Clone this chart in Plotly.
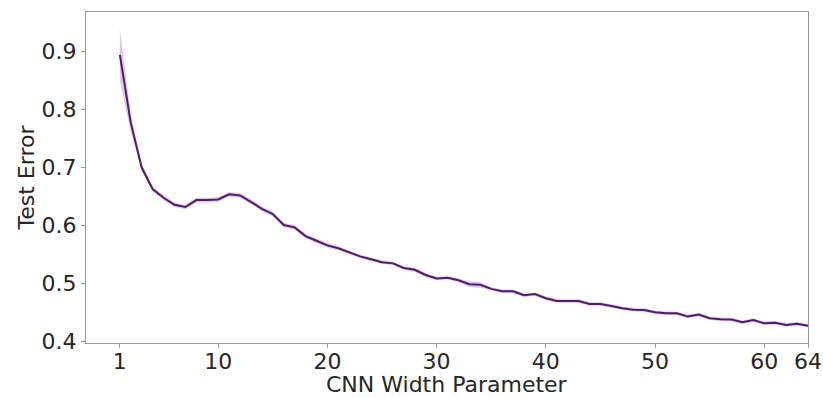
import plotly.graph_objects as go

widths = list(range(1, 65))
test_error = [
    0.894, 0.777, 0.700, 0.663, 0.648, 0.636, 0.632, 0.644, 0.644, 0.645,
    0.654, 0.652, 0.641, 0.629, 0.620, 0.601, 0.597, 0.582, 0.574, 0.566,
    0.561, 0.554, 0.547, 0.542, 0.537, 0.535, 0.527, 0.524, 0.515, 0.509,
    0.510, 0.506, 0.499, 0.498, 0.491, 0.487, 0.487, 0.480, 0.482, 0.475,
    0.470, 0.470, 0.470, 0.465, 0.465, 0.4615, 0.4576, 0.4552, 0.4547, 0.4507,
    0.449, 0.449, 0.4433, 0.4467, 0.4404, 0.4386, 0.4381, 0.4334, 0.4374, 0.4317,
    0.4328, 0.4288, 0.431, 0.4276,
]
band_halfwidth = [
    0.045, 0.015, 0.006, 0.004, 0.004, 0.004, 0.004, 0.004, 0.004, 0.004,
    0.004, 0.004, 0.004, 0.004, 0.004, 0.004, 0.004, 0.004, 0.004, 0.004,
    0.003, 0.003, 0.003, 0.003, 0.003, 0.003, 0.003, 0.004, 0.003, 0.003,
    0.003, 0.003, 0.005, 0.005, 0.003, 0.003, 0.003, 0.003, 0.003, 0.003,
    0.003, 0.003, 0.003, 0.003, 0.003, 0.003, 0.003, 0.003, 0.003, 0.003,
    0.003, 0.003, 0.003, 0.003, 0.003, 0.003, 0.003, 0.003, 0.003, 0.003,
    0.003, 0.003, 0.003, 0.003,
]
upper = [v + h for v, h in zip(test_error, band_halfwidth)]
lower = [v - h for v, h in zip(test_error, band_halfwidth)]

x_ticks = [1, 10, 20, 30, 40, 50, 60, 64]
y_ticks = [0.4, 0.5, 0.6, 0.7, 0.8, 0.9]
x_title = "CNN Width Parameter"
y_title = "Test Error"

line_color = "#56196b"
band_color = "rgba(130,70,160,0.28)"

fig = go.Figure()
fig.add_trace(go.Scatter(x=widths, y=upper, mode="lines", line=dict(width=0),
                         showlegend=False, hoverinfo="skip"))
fig.add_trace(go.Scatter(x=widths, y=lower, mode="lines", line=dict(width=0),
                         fill="tonexty", fillcolor=band_color,
                         showlegend=False, hoverinfo="skip"))
fig.add_trace(go.Scatter(x=widths, y=test_error, mode="lines",
                         line=dict(color=line_color, width=2),
                         showlegend=False))

font_family = "DejaVu Sans"
fig.update_layout(
    width=823, height=398,
    margin=dict(l=86, r=15, t=12, b=55),
    paper_bgcolor="white", plot_bgcolor="white",
    font=dict(family=font_family, size=22, color="#262626"),
    xaxis=dict(
        range=[-2.1, 64], tickvals=x_ticks, ticktext=[str(t) for t in x_ticks],
        automargin=False, ticklabelstandoff=-5,
        showgrid=False, zeroline=False, showline=True, linecolor="#999999",
        linewidth=1, mirror=True, ticks="outside", ticklen=4, tickcolor="#999999",
    ),
    yaxis=dict(
        range=[0.3978, 0.968], tickvals=y_ticks,
        ticktext=[f"{t:.1f}" for t in y_ticks],
        automargin=False,
        showgrid=False, zeroline=False, showline=True, linecolor="#999999",
        linewidth=1, mirror=True, ticks="outside", ticklen=4, tickcolor="#999999",
        title=dict(text=y_title, font=dict(size=22), standoff=0),
    ),
    annotations=[dict(
        text=x_title, xref="paper", yref="paper", x=0.5, y=0,
        xanchor="center", yanchor="top", yshift=-27, showarrow=False,
        font=dict(size=22, color="#262626", family=font_family),
    )],
)

fig.write_html("out.html")
